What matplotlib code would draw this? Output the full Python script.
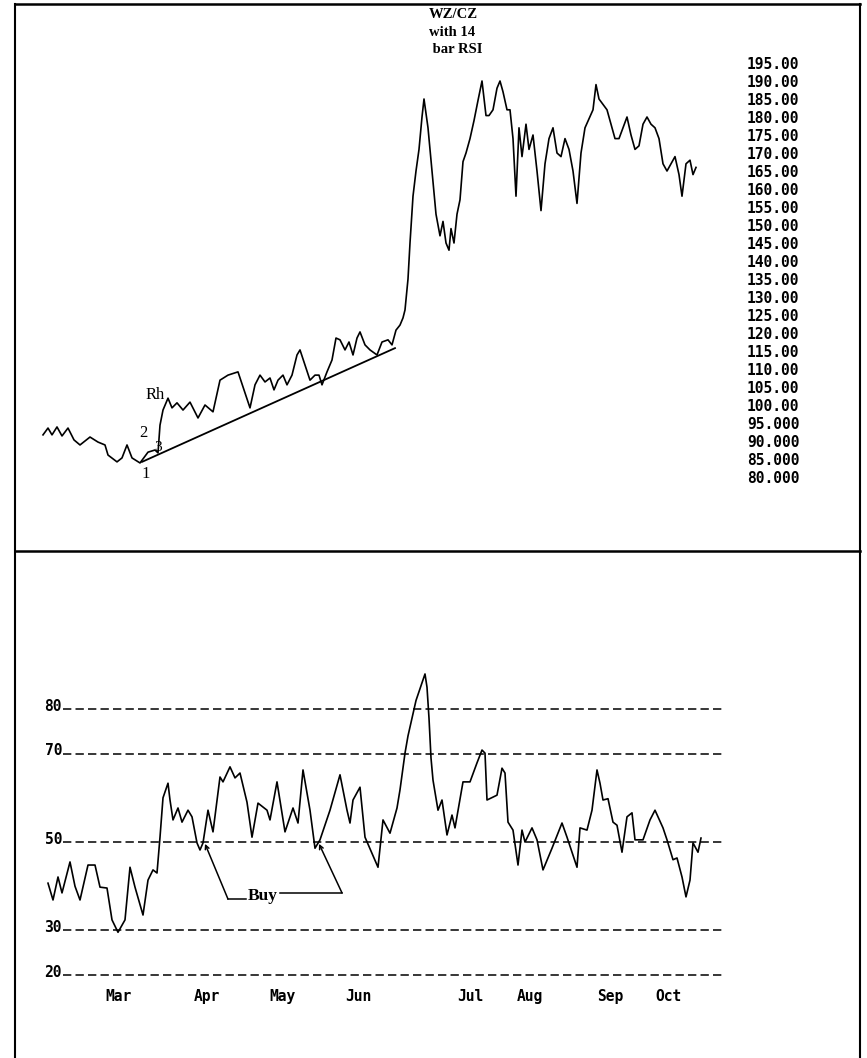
import matplotlib
matplotlib.use('Agg')
import matplotlib.pyplot as plt
from matplotlib.lines import Line2D

# price (WZ/CZ spread), x = bar index
price_t = [3, 8, 12, 17, 22, 28, 34, 40, 50, 58, 65, 68, 77, 82, 87, 92, 100, 108, 115, 118,
           120, 123, 128, 132, 137, 143, 150, 158, 165, 173, 180, 188, 198, 204, 210,
           215, 220, 225, 230, 234, 238, 243, 247, 252, 257, 260, 265, 270, 275, 279, 282,
           287, 292, 296, 300, 305, 309, 313, 317, 320, 325, 330, 337, 342, 348, 352, 356,
           360, 363, 365, 368, 370, 373, 376, 379, 382, 384, 388, 392, 396, 400, 403, 406,
           409, 411, 414, 417, 420, 423, 426, 430, 434, 438, 442, 446, 449, 453, 457, 460,
           463, 467, 470, 473, 476, 479, 482, 486, 489, 493, 497, 501, 505, 509, 513, 517,
           521, 525, 529, 533, 537, 541, 545, 549, 553, 556, 559, 563, 567, 571, 575, 579,
           583, 587, 591, 595, 599, 603, 607, 611, 615, 619, 623, 627, 631, 635, 639, 642,
           646, 650, 653, 656]
price = [91.7, 93.6, 91.7, 93.9, 91.4, 93.6, 90.3, 88.9, 91.1, 89.7, 88.9, 86.1, 84.2, 85.3,
         88.9, 85.3, 83.9, 86.9, 87.5, 86.7,
         94.4, 98.6, 101.9, 99.2, 100.6, 98.6, 100.8, 96.4, 100.0, 98.1, 106.9, 108.3, 109.2,
         104.2, 99.2,
         105.6, 108.3, 106.4, 107.5, 104.2, 106.9, 108.3, 105.6, 108.3, 113.9, 115.3, 111.1, 106.9,
         108.3, 108.3, 105.6, 109.2, 112.5, 118.6, 118.1, 115.3, 117.5, 113.9, 118.6, 120.3, 116.7,
         115.3, 113.9, 117.5, 118.1, 116.7, 120.8,
         122.2, 124.2, 126.4, 135.0, 145.0, 158.0, 165.0, 171.0, 180.0, 185.0, 177.0, 165.0, 153.0,
         147.0, 151.0, 145.0, 143.0, 149.0, 145.0, 153.0, 157.0, 167.6, 170.0, 174.0, 179.0, 184.6,
         190.0, 180.4, 180.4, 182.0, 188.0, 190.0, 187.0, 182.0, 182.0, 174.0, 158.0, 177.0, 169.0,
         178.0, 171.0, 175.0, 165.0, 154.0, 167.0, 174.0, 177.0, 170.0, 169.0, 174.0, 171.0, 165.0,
         156.0, 170.0, 177.0, 179.5, 182.0, 189.0, 185.0, 183.5, 182.0, 178.0, 174.0, 174.0, 177.0,
         180.0, 175.0, 171.0, 172.0, 178.0, 180.0, 178.0, 177.0, 174.0, 167.0, 165.0, 167.0, 169.0,
         164.0, 158.0, 167.0, 168.0, 164.0, 166.0]

# 14 bar RSI
rsi_t = [8, 13, 18, 22, 30, 35, 40, 48, 55, 60, 67, 72, 78, 85, 90, 95, 103, 108, 113, 117,
         120, 123, 128, 130, 133, 138, 142, 148, 152, 157, 160, 163, 168, 173, 180, 183, 190,
         195, 200, 207, 212, 218, 227, 230, 237, 245, 253, 258, 263, 270, 275, 280, 290, 300,
         307, 310, 313, 320, 325, 338, 343, 350, 357, 360, 365, 368, 372, 376, 379, 382, 385,
         387, 389, 391, 393, 398, 402, 407, 412, 415, 423, 430, 437, 442, 445, 447, 457, 462,
         465, 468, 473, 478, 482, 485, 492, 497, 503, 512, 522, 527, 537, 540, 547, 552, 557,
         560, 563, 568, 573, 577, 582, 587, 592, 595, 603, 610, 615, 623, 627, 633, 637, 642,
         646, 650, 653, 658, 661]
rsi = [40.7, 36.9, 42.1, 38.5, 45.5, 40.0, 36.9, 44.8, 44.8, 39.8, 39.6, 32.4, 29.6, 32.4,
       44.3, 39.8, 33.5, 41.4, 43.7, 43.0,
       51.1, 60.0, 63.3, 59.5, 55.0, 57.7, 54.5, 57.2, 55.7, 49.8, 48.2, 49.8, 57.2, 52.3, 64.7,
       63.6, 67.0, 64.5, 65.6, 59.0, 51.1, 58.8, 57.2, 55.0, 63.6, 52.3, 57.7, 54.3, 66.3, 57.2,
       48.6, 50.5, 57.2, 65.2, 57.2, 54.3, 59.5, 62.4, 51.1, 44.3, 55.0, 52.0, 57.7, 61.8, 70.1,
       74.0, 78.0, 82.0, 84.0, 86.0, 88.0, 85.0, 78.0, 69.0, 64.0, 57.2, 59.5, 51.6, 56.1, 53.2,
       63.6, 63.6, 67.9, 70.8, 70.1, 59.5, 60.6, 66.7, 65.6, 54.5, 52.7, 44.8, 52.7, 50.0, 53.2,
       50.5, 43.7, 48.6, 54.3, 51.1, 44.3, 53.2, 52.7, 57.2, 66.3, 63.3, 59.5, 59.8, 54.5, 53.8,
       47.7, 55.7, 56.6, 50.5, 50.5, 55.0, 57.2, 53.2, 50.5, 46.0, 46.4, 42.1, 37.6, 41.4, 49.8,
       47.7, 50.9]

price_ticks = [80, 85, 90, 95, 100, 105, 110, 115, 120, 125, 130, 135, 140, 145, 150, 155,
               160, 165, 170, 175, 180, 185, 190, 195]
price_labels = ['80.000', '85.000', '90.000', '95.000', '100.00', '105.00', '110.00', '115.00',
                '120.00', '125.00', '130.00', '135.00', '140.00', '145.00', '150.00', '155.00',
                '160.00', '165.00', '170.00', '175.00', '180.00', '185.00', '190.00', '195.00']
rsi_levels = [80, 70, 50, 30, 20]
months = ['Mar', 'Apr', 'May', 'Jun', 'Jul', 'Aug', 'Sep', 'Oct']
month_t = [79, 167, 243, 318, 430, 490, 570, 628]

# trendline (bar, value)
trend_t = [102, 355]
trend_v = [84.2, 115.8]

W, H = 867, 1058
fig = plt.figure(figsize=(W / 100, H / 100), dpi=100)
plt.rcParams['lines.scale_dashes'] = False
mono = dict(family='DejaVu Sans Mono', weight='bold', size=10.5)


def box(l, t, r, b):
    return [l / W, 1 - b / H, (r - l) / W, (b - t) / H]


# ---- upper panel: price ----
ax1 = fig.add_axes(box(40, 45, 740, 513))
ax1.plot(price_t, price, color='black', lw=1.2)
ax1.plot(trend_t, trend_v, color='black', lw=1.3)
ax1.set_xlim(0, 700)
ax1.set_ylim(70, 200)
for s in ax1.spines.values():
    s.set_visible(False)
ax1.set_xticks([])
ax1.yaxis.tick_right()
ax1.set_yticks(price_ticks)
ax1.set_yticklabels(price_labels, fontdict=mono)
ax1.tick_params(axis='y', length=0, pad=5)
serif = dict(family='Liberation Serif', size=12, ha='center', va='center')
ax1.text(115, 102.8, 'Rh', **serif)
ax1.text(103, 92.2, '2', **serif)
ax1.text(118, 88.3, '3', family='Liberation Serif', size=11, ha='center', va='center')
ax1.text(106, 80.9, '1', **serif)

fig.text(456 / W, 1 - 8 / H, 'WZ/CZ\nwith 14\n bar RSI', family='Liberation Serif',
         weight='bold', size=10.5, ha='center', va='top', multialignment='left',
         linespacing=1.45, transform=fig.transFigure)

# ---- lower panel: RSI ----
ax2 = fig.add_axes(box(40, 643, 740, 988))
ax2.plot(rsi_t, rsi, color='black', lw=1.2)
for lv in rsi_levels:
    ax2.plot([23, 685], [lv, lv], color='black', lw=1.1, dashes=(6, 3))
    ax2.text(22, lv + 0.6, str(lv), ha='right', va='center', fontdict=mono)
ax2.set_xlim(0, 700)
ax2.set_ylim(17, 95)
for s in ax2.spines.values():
    s.set_visible(False)
ax2.set_yticks([])
ax2.set_xticks(month_t)
ax2.set_xticklabels(months, fontdict=mono)
ax2.tick_params(axis='x', length=0, pad=1)

# Buy callouts
ax2.annotate('', xy=(165, 49.6), xytext=(188, 37.1),
             arrowprops=dict(arrowstyle='->', lw=1.1, mutation_scale=7, shrinkA=0, shrinkB=0))
ax2.plot([188, 206], [37.1, 37.1], color='black', lw=1.1)
ax2.text(223, 37.0, 'Buy', family='Liberation Serif', weight='bold', size=12.5,
         ha='center', va='baseline')
ax2.annotate('', xy=(279, 49.6), xytext=(302, 38.5),
             arrowprops=dict(arrowstyle='->', lw=1.1, mutation_scale=7, shrinkA=0, shrinkB=0))
ax2.plot([240, 302], [38.5, 38.5], color='black', lw=1.1)

# outer frame and divider
for xs, ys, lw in [([15, 15], [4, 1058], 1.5), ([860, 860], [4, 1058], 1.5),
                   ([15, 860], [4, 4], 1.8), ([15, 860], [551, 551], 1.8)]:
    fig.add_artist(Line2D([x / W for x in xs], [1 - y / H for y in ys], color='black', lw=lw,
                          transform=fig.transFigure))

fig.savefig('out.png', dpi=100)
